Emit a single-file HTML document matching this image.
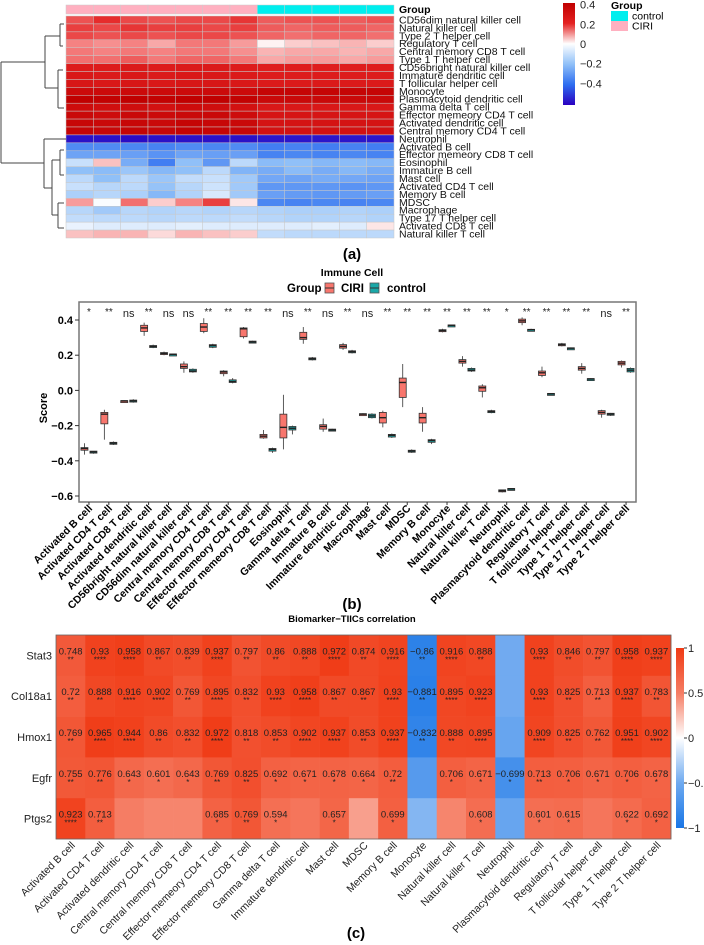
<!DOCTYPE html>
<html><head><meta charset="utf-8"><style>
html,body{margin:0;padding:0;background:#fff;overflow:hidden;}
svg{display:block;font-family:"Liberation Sans",Arial,sans-serif;}
</style></head><body>
<svg id="fig" width="704" height="945" viewBox="0 0 704 945" xmlns="http://www.w3.org/2000/svg">
<defs>
<linearGradient id="gradA" x1="0" y1="0" x2="0" y2="1">
<stop offset="0" stop-color="#c00000"/><stop offset="0.2" stop-color="#e42222"/><stop offset="0.4" stop-color="#fff"/><stop offset="0.6" stop-color="#90c0f8"/><stop offset="0.8" stop-color="#2e6ef0"/><stop offset="1" stop-color="#2a00c0"/>
</linearGradient>
<linearGradient id="gradC" x1="0" y1="0" x2="0" y2="1">
<stop offset="0" stop-color="rgb(240,58,20)"/><stop offset="0.25" stop-color="rgb(245,125,100)"/><stop offset="0.5" stop-color="#fff"/><stop offset="0.75" stop-color="rgb(110,170,240)"/><stop offset="1" stop-color="rgb(25,118,230)"/>
</linearGradient>
</defs>
<g id="panelA"></g>
<text x="352" y="259" font-size="15" font-weight="bold" text-anchor="middle">(a)</text>
<g id="panelB"></g>
<g id="panelC"></g>
<text x="352" y="609" font-size="15" font-weight="bold" text-anchor="middle">(b)</text>
<text x="356" y="938" font-size="15" font-weight="bold" text-anchor="middle">(c)</text>
</svg>
<script>
const NS="http://www.w3.org/2000/svg";
function mk(parent,tag,attrs,txt){const e=document.createElementNS(NS,tag);for(const k in attrs)e.setAttribute(k,attrs[k]);if(txt!==undefined)e.textContent=txt;parent.appendChild(e);return e;}

/* ---------- Panel A data ---------- */
const aRows=["CD56dim natural killer cell","Natural killer cell","Type 2 T helper cell","Regulatory T cell","Central memory CD8 T cell","Type 1 T helper cell","CD56bright natural killer cell","Immature dendritic cell","T follicular helper cell","Monocyte","Plasmacytoid dendritic cell","Gamma delta T cell","Effector memeory CD4 T cell","Activated dendritic cell","Central memory CD4 T cell","Neutrophil","Activated B cell","Effector memeory CD8 T cell","Eosinophil","Immature  B cell","Mast cell","Activated CD4 T cell","Memory B cell","MDSC","Macrophage","Type 17 T helper cell","Activated CD8 T cell","Natural killer T cell"];
const aGroups=["CIRI","CIRI","CIRI","CIRI","CIRI","CIRI","CIRI","control","control","control","control","control"];
const aVals=[
[0.15,0.19,0.16,0.15,0.16,0.16,0.18,0.14,0.15,0.15,0.14,0.15],
[0.17,0.16,0.18,0.17,0.17,0.16,0.17,0.14,0.13,0.14,0.14,0.13],
[0.16,0.15,0.16,0.15,0.16,0.16,0.15,0.13,0.12,0.13,0.13,0.12],
[0.10,0.09,0.10,0.07,0.11,0.11,0.08,0.01,0.04,0.05,0.06,0.04],
[0.11,0.10,0.11,0.10,0.11,0.11,0.09,0.06,0.07,0.07,0.06,0.07],
[0.12,0.12,0.14,0.11,0.13,0.13,0.11,0.07,0.08,0.08,0.07,0.08],
[0.24,0.24,0.25,0.24,0.25,0.25,0.24,0.23,0.23,0.23,0.23,0.23],
[0.26,0.25,0.26,0.25,0.26,0.26,0.25,0.24,0.24,0.24,0.24,0.24],
[0.27,0.26,0.27,0.26,0.27,0.27,0.26,0.25,0.25,0.25,0.25,0.25],
[0.34,0.34,0.34,0.34,0.34,0.34,0.34,0.37,0.37,0.37,0.37,0.37],
[0.40,0.39,0.40,0.39,0.41,0.40,0.39,0.35,0.35,0.35,0.35,0.35],
[0.33,0.31,0.32,0.30,0.33,0.32,0.30,0.26,0.26,0.26,0.26,0.26],
[0.35,0.33,0.35,0.34,0.35,0.35,0.33,0.28,0.28,0.28,0.28,0.28],
[0.36,0.35,0.36,0.35,0.37,0.36,0.35,0.29,0.29,0.29,0.29,0.29],
[0.37,0.36,0.37,0.36,0.38,0.37,0.36,0.30,0.30,0.30,0.30,0.30],
[-0.57,-0.57,-0.58,-0.57,-0.57,-0.57,-0.57,-0.56,-0.56,-0.56,-0.56,-0.56],
[-0.33,-0.33,-0.34,-0.35,-0.33,-0.34,-0.33,-0.36,-0.35,-0.36,-0.35,-0.36],
[-0.27,-0.27,-0.28,-0.31,-0.27,-0.28,-0.28,-0.35,-0.34,-0.35,-0.34,-0.35],
[-0.10,0.05,-0.25,-0.36,-0.2,-0.3,-0.12,-0.21,-0.2,-0.22,-0.21,-0.22],
[-0.20,-0.21,-0.18,-0.22,-0.20,-0.12,-0.23,-0.25,-0.21,-0.25,-0.22,-0.25],
[-0.12,-0.2,-0.12,-0.18,-0.11,-0.1,-0.17,-0.26,-0.27,-0.25,-0.26,-0.27],
[-0.10,-0.13,-0.12,-0.19,-0.13,-0.09,-0.17,-0.3,-0.3,-0.3,-0.31,-0.3],
[-0.15,-0.13,-0.15,-0.22,-0.14,-0.07,-0.17,-0.28,-0.29,-0.3,-0.29,-0.28],
[0.08,-0.01,0.12,0.04,0.1,0.17,0.02,-0.34,-0.35,-0.34,-0.35,-0.34],
[-0.13,-0.17,-0.13,-0.14,-0.13,-0.14,-0.13,-0.14,-0.15,-0.15,-0.14,-0.15],
[-0.11,-0.12,-0.12,-0.13,-0.12,-0.12,-0.11,-0.13,-0.14,-0.14,-0.13,-0.14],
[-0.04,-0.06,-0.06,-0.06,-0.05,-0.06,-0.06,-0.06,-0.06,-0.05,-0.06,0.02],
[0.05,0.06,0.06,0.03,0.06,0.05,0.04,-0.11,-0.12,-0.12,-0.12,-0.12]];
const aLegendTicks=[0.4,0.2,0,-0.2,-0.4];

/* ---------- Panel B data ---------- */
const bCats=["Activated B cell","Activated CD4 T cell","Activated CD8 T cell","Activated dendritic cell","CD56bright natural killer cell","CD56dim natural killer cell","Central memory CD4 T cell","Central memory CD8 T cell","Effector memeory CD4 T cell","Effector memeory CD8 T cell","Eosinophil","Gamma delta T cell","Immature  B cell","Immature dendritic cell","Macrophage","Mast cell","MDSC","Memory B cell","Monocyte","Natural killer cell","Natural killer T cell","Neutrophil","Plasmacytoid dendritic cell","Regulatory T cell","T follicular helper cell","Type 1 T helper cell","Type 17 T helper cell","Type 2 T helper cell"];
const bSig=["*","**","ns","**","ns","ns","**","**","**","**","ns","**","ns","**","ns","**","**","**","**","**","**","*","**","**","**","**","ns","**"];
const ciriMed=[-0.33,-0.135,-0.06,0.355,0.21,0.135,0.36,0.105,0.35,-0.26,-0.21,0.30,-0.205,0.25,-0.135,-0.155,0.045,-0.155,0.34,0.165,0.015,-0.57,0.395,0.10,0.26,0.125,-0.125,0.155];
const ciriQ1=[-0.34,-0.19,-0.062,0.335,0.205,0.125,0.335,0.095,0.305,-0.27,-0.27,0.29,-0.22,0.24,-0.14,-0.185,-0.04,-0.185,0.335,0.155,-0.005,-0.575,0.385,0.085,0.255,0.115,-0.135,0.145];
const ciriQ3=[-0.325,-0.125,-0.058,0.37,0.215,0.15,0.38,0.11,0.355,-0.25,-0.135,0.33,-0.195,0.26,-0.132,-0.125,0.07,-0.13,0.345,0.175,0.025,-0.565,0.405,0.11,0.265,0.135,-0.115,0.165];
const ciriLo=[-0.365,-0.28,-0.063,0.31,0.20,0.10,0.325,0.08,0.295,-0.275,-0.335,0.265,-0.235,0.23,-0.14,-0.21,-0.095,-0.235,0.33,0.135,-0.04,-0.58,0.37,0.075,0.25,0.095,-0.155,0.13];
const ciriHi=[-0.30,-0.11,-0.057,0.385,0.22,0.165,0.41,0.115,0.36,-0.225,-0.025,0.36,-0.16,0.27,-0.13,-0.115,0.15,-0.095,0.35,0.195,0.035,-0.565,0.415,0.135,0.27,0.155,-0.11,0.17];
const ctrlMed=[-0.35,-0.30,-0.06,0.25,0.205,0.11,0.255,0.05,0.275,-0.335,-0.215,0.18,-0.225,0.22,-0.145,-0.255,-0.345,-0.285,0.37,0.115,-0.12,-0.56,0.345,-0.02,0.24,0.065,-0.135,0.115];
const ctrlQ1=[-0.355,-0.305,-0.065,0.245,0.203,0.105,0.245,0.045,0.27,-0.345,-0.225,0.175,-0.228,0.215,-0.155,-0.265,-0.35,-0.295,0.368,0.11,-0.125,-0.563,0.343,-0.023,0.238,0.063,-0.14,0.105];
const ctrlQ3=[-0.345,-0.295,-0.055,0.255,0.207,0.12,0.26,0.06,0.28,-0.33,-0.205,0.185,-0.22,0.225,-0.135,-0.25,-0.34,-0.28,0.372,0.125,-0.115,-0.557,0.347,-0.017,0.242,0.067,-0.13,0.125];
const ctrlLo=[-0.36,-0.31,-0.07,0.24,0.2,0.1,0.24,0.04,0.268,-0.355,-0.25,0.17,-0.23,0.21,-0.16,-0.27,-0.355,-0.305,0.366,0.105,-0.13,-0.565,0.34,-0.025,0.236,0.061,-0.145,0.1];
const ctrlHi=[-0.345,-0.29,-0.05,0.26,0.21,0.125,0.265,0.07,0.282,-0.325,-0.2,0.19,-0.218,0.23,-0.13,-0.245,-0.335,-0.275,0.374,0.13,-0.11,-0.555,0.35,-0.015,0.244,0.069,-0.128,0.13];
const bTicks=[0.4,0.2,0.0,-0.2,-0.4,-0.6];
const bTickLabels=["0.4","0.2","0.0","\u22120.2","\u22120.4","\u22120.6"];

/* ---------- Panel C data ---------- */
const cGenes=["Stat3","Col18a1","Hmox1","Egfr","Ptgs2"];
const cCells=["Activated B cell","Activated CD4 T cell","Activated dendritic cell","Central memory CD4 T cell","Central memory CD8 T cell","Effector memeory CD4 T cell","Effector memeory CD8 T cell","Gamma delta T cell","Immature dendritic cell","Mast cell","MDSC","Memory B cell","Monocyte","Natural killer cell","Natural killer T cell","Neutrophil","Plasmacytoid dendritic cell","Regulatory T cell","T follicular helper cell","Type 1 T helper cell","Type 2 T helper cell"];
const cStat3=[0.748,0.93,0.958,0.867,0.839,0.937,0.797,0.86,0.888,0.972,0.874,0.916,-0.86,0.916,0.888,-0.45,0.93,0.846,0.797,0.958,0.937];
const cCol18a1=[0.72,0.888,0.916,0.902,0.769,0.895,0.832,0.93,0.958,0.867,0.867,0.93,-0.881,0.895,0.923,-0.45,0.93,0.825,0.713,0.937,0.783];
const cHmox1=[0.769,0.965,0.944,0.86,0.832,0.972,0.818,0.853,0.902,0.937,0.853,0.937,-0.832,0.888,0.895,-0.5,0.909,0.825,0.762,0.951,0.902];
const cEgfr=[0.755,0.776,0.643,0.601,0.643,0.769,0.825,0.692,0.671,0.678,0.664,0.72,-0.6,0.706,0.671,-0.699,0.713,0.706,0.671,0.706,0.678];
const cPtgs2=[0.923,0.713,0.5,0.45,0.45,0.685,0.769,0.594,0.55,0.657,0.3,0.699,-0.35,0.45,0.608,-0.5,0.601,0.615,0.55,0.622,0.692];
const sStat3=["**","****","****","**","**","****","**","**","**","****","**","****","**","****","**","","****","**","**","****","****"];
const sCol18a1=["**","**","****","****","**","****","**","****","****","**","**","****","**","****","****","","****","**","**","****","**"];
const sHmox1=["**","****","****","**","**","****","**","**","****","****","**","****","**","**","****","","****","**","**","****","****"];
const sEgfr=["**","**","*","*","*","**","**","*","*","*","*","**","","*","*","*","**","*","*","*","*"];
const sPtgs2=["****","**","","","","*","**","*","","*","","*","","","*","","*","*","","*","*"];
const cTicks=[1,0.5,0,-0.5,-1];
const cTickLabels=["1","0.5","0","\u22120.5","\u22121"];

/* ---------- Panel A draw ---------- */
(function(){
  const g=document.getElementById('panelA');
  const x0=66,x1=394,yTop=16,yBot=238;
  const cw=(x1-x0)/aGroups.length, rh=(yBot-yTop)/aRows.length;
  const stops=[[-0.6,[42,0,192]],[-0.4,[46,110,240]],[-0.2,[144,192,248]],[0,[255,255,255]],[0.1,[245,130,130]],[0.2,[228,34,34]],[0.4,[192,0,0]]];
  function col(v){if(v<=stops[0][0])return 'rgb('+stops[0][1]+')';for(let i=1;i<stops.length;i++){if(v<=stops[i][0]){const a=stops[i-1],b=stops[i],t=(v-a[0])/(b[0]-a[0]);return 'rgb('+a[1].map((c,k)=>Math.round(c+(b[1][k]-c)*t)).join(',')+')';}}return 'rgb('+stops[stops.length-1][1]+')';}
  aGroups.forEach((gr,j)=>{
    const r=mk(g,'rect',{x:x0+j*cw,y:5,width:cw,height:9,fill:gr==="CIRI"?"#ffb0c0":"#00eeee",stroke:"#ccc","stroke-width":0.5});
    
    
  });
  const gl=mk(g,'text',{x:399,y:13,"font-size":10.5,"font-weight":"bold"},"Group");
  
  
  aRows.forEach((name,i)=>{
    aVals[i].forEach((v,j)=>{
      const r=mk(g,'rect',{x:x0+j*cw,y:yTop+i*rh,width:cw,height:rh,fill:col(v),stroke:"#c8c8c8","stroke-width":0.5});
      
      
    });
    const t=mk(g,'text',{x:399,y:yTop+i*rh+rh-0.5,"font-size":10.5,fill:"#111"},name);
    
    
  });
  const d="M1,62V163 M1,62H45 M1,163H44 M45,36V88 M45,36H60 M45,88H58 M60,24V46 M60,24H64 M60,46H63 M58,70V108 M58,70H63 M58,108H64 M44,139V188 M44,139H66 M44,188H52 M52,160V215 M52,160H60 M52,215H58 M60,150V175 M60,150H64 M60,175H64 M58,203V228 M58,203H64 M58,228H64";
  const p=mk(g,'path',{d:d,stroke:"#444","stroke-width":1,fill:"none"});
  
  
  const cb=mk(g,'rect',{x:563,y:3,width:12,height:102,fill:"url(#gradA)"});
  
  
  aLegendTicks.forEach(v=>{
    const y=44-v*98.5;
    const t=mk(g,'text',{x:580,y:y+4,"font-size":11,fill:"#222"},(v<0?"\u2212":"")+Math.abs(v));
    
    
  });
  const lt=mk(g,'text',{x:611,y:9,"font-size":10.5,"font-weight":"bold"},"Group");
  
  
  [["control","#00eeee",11],["CIRI","#ffb0c0",21]].forEach(e=>{
    const r=mk(g,'rect',{x:611,y:e[2],width:17,height:10,fill:e[1]});
    
    
    const t=mk(g,'text',{x:632,y:e[2]+8.5,"font-size":10.5},e[0]);
    
    
  });
})();

/* ---------- Panel B draw ---------- */
(function(){
  const g=document.getElementById('panelB');
  const L=79,R=636,T=302,B=502;
  const yS=v=>320+(0.4-v)*176;
  const step=(R-L)/bCats.length;
  const xC=i=>L+step*(i+0.5);
  let t=mk(g,'text',{x:352,y:276,"font-size":10.5,"font-weight":"bold","text-anchor":"middle"},"Immune Cell");
  
  
  t=mk(g,'text',{x:287,y:292,"font-size":11.5,"font-weight":"bold"},"Group");
  
  
  [["CIRI","#F8766D",325,341],["control","#1aa8a8",370,387]].forEach(e=>{
    const k=mk(g,'rect',{x:e[2],y:283,width:9,height:10,fill:e[1],stroke:"#555","stroke-width":0.8});
    
    
    mk(g,'line',{x1:e[2],x2:e[2]+9,y1:288,y2:288,stroke:"#333","stroke-width":1});
    const tt=mk(g,'text',{x:e[3],y:292,"font-size":11.5,"font-weight":"bold"},e[0]);
    
    
  });
  const fr=mk(g,'rect',{x:L,y:T,width:R-L,height:B-T,fill:"none",stroke:"#777","stroke-width":1.5});
  
  
  bTicks.forEach((v,i)=>{
    mk(g,'line',{x1:L-4,x2:L,y1:yS(v),y2:yS(v),stroke:"#333"});
    const tt=mk(g,'text',{x:L-6,y:yS(v)+4,"font-size":11,"font-weight":"bold","text-anchor":"end"},bTickLabels[i]);
    
    
  });
  t=mk(g,'text',{x:0,y:0,"font-size":11,"font-weight":"bold","text-anchor":"middle",transform:"translate(47,408) rotate(-90)"},"Score");
  
  
  function box(x,med,q1,q3,lo,hi,fill,name){
    const gg=mk(g,'g',{});
    
    
    mk(gg,'line',{x1:x,x2:x,y1:yS(hi),y2:yS(lo),stroke:"#333","stroke-width":0.8});
    const top=yS(q3),h=Math.max(yS(q1)-top,2);
    mk(gg,'rect',{x:x-3.5,y:top,width:7,height:h,fill:fill,stroke:"#333","stroke-width":0.8});
    mk(gg,'line',{x1:x-3.5,x2:x+3.5,y1:yS(med),y2:yS(med),stroke:"#222","stroke-width":1.4});
  }
  bCats.forEach((c,i)=>{
    const x=xC(i);
    mk(g,'line',{x1:x,x2:x,y1:B,y2:B+3,stroke:"#333"});
    box(x-4.5,ciriMed[i],ciriQ1[i],ciriQ3[i],ciriLo[i],ciriHi[i],"#F8766D","box-ciri");
    box(x+4.5,ctrlMed[i],ctrlQ1[i],ctrlQ3[i],ctrlLo[i],ctrlHi[i],"#1aa8a8","box-control");
    const s=mk(g,'text',{x:x,y:bSig[i]==="ns"?317:315,"font-size":bSig[i]==="ns"?11:10,"text-anchor":"middle",fill:"#222"},bSig[i]);
    
    
    const l=mk(g,'text',{x:0,y:0,"font-size":10.5,"font-weight":"bold","text-anchor":"end",transform:"translate("+(x+4)+","+(B+7)+") rotate(-45)"},c);
    
    
  });
})();

/* ---------- Panel C draw ---------- */
(function(){
  const g=document.getElementById('panelC');
  const L=56,R=671,T=635,B=839;
  const cw=(R-L)/cCells.length, rh=(B-T)/cGenes.length;
  const vals=[cStat3,cCol18a1,cHmox1,cEgfr,cPtgs2];
  const sigs=[sStat3,sCol18a1,sHmox1,sEgfr,sPtgs2];
  function col(v){const t=Math.pow(Math.min(Math.abs(v),1),0.6);const e=v>=0?[240,58,20]:[25,118,230];return 'rgb('+e.map(c=>Math.round(255+(c-255)*t)).join(',')+')';}
  let t=mk(g,'text',{x:352,y:622,"font-size":9.5,"font-weight":"bold","text-anchor":"middle"},"Biomarker\u2212TIICs correlation");
  
  
  cGenes.forEach((gn,i)=>{
    const y=T+i*rh;
    vals[i].forEach((v,j)=>{
      const x=L+j*cw;
      const r=mk(g,'rect',{x:x,y:y,width:cw+0.3,height:rh+0.3,fill:col(v)});
      
      
      if(sigs[i][j]){
        const vs=(v<0?"\u2212":"")+String(Math.abs(v));
        const a=mk(g,'text',{x:x+cw/2,y:y+rh/2-1,"font-size":9.5,"text-anchor":"middle",fill:"#222"},vs);
        
        
        const b=mk(g,'text',{x:x+cw/2,y:y+rh/2+7,"font-size":8,"text-anchor":"middle",fill:"#222"},sigs[i][j]);
        
        
      }
    });
    const rl=mk(g,'text',{x:L-4,y:y+rh/2+4,"font-size":11,"text-anchor":"end",fill:"#222"},gn);
    
    
  });
  mk(g,'rect',{x:L,y:T,width:R-L,height:B-T,fill:"none",stroke:"#666","stroke-width":0.8});
  cCells.forEach((c,j)=>{
    const x=L+j*cw+cw/2;
    const l=mk(g,'text',{x:0,y:0,"font-size":10.5,"text-anchor":"end",fill:"#222",transform:"translate("+(x+5)+","+(B+7)+") rotate(-45)"},c);
    
    
  });
  const cb=mk(g,'rect',{x:676,y:648,width:8,height:180,fill:"url(#gradC)"});
  
  
  cTicks.forEach((v,i)=>{
    const y=738-v*90;
    mk(g,'line',{x1:684,x2:687,y1:y,y2:y,stroke:"#333"});
    const tt=mk(g,'text',{x:688,y:y+4,"font-size":11,fill:"#222"},cTickLabels[i]);
    
    
  });
})();
</script>
</body></html>
